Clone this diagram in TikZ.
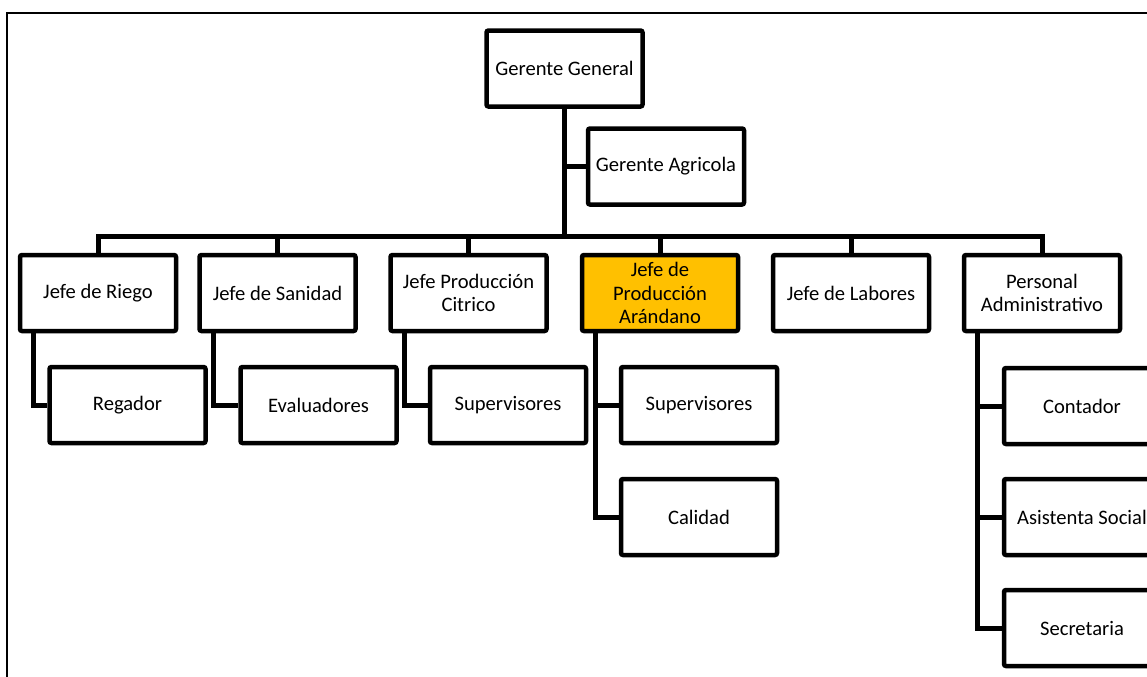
\documentclass[tikz,border=0pt]{standalone}
\usepackage{fontspec}
\setmainfont{Carlito}
\usetikzlibrary{positioning}

\definecolor{Highlight}{HTML}{FFC000}
\tikzstyle{Block}=[rectangle,draw=black,rounded corners=1pt,line width=2.25pt,
  align=center,minimum height=38pt,minimum width=78pt,inner sep=1pt,
  font=\fontsize{10.3pt}{11.7pt}\selectfont]
\tikzstyle{LinkLine}=[black,line width=2.5pt]

\begin{document}
\begin{tikzpicture}[x=0.5pt, y=-0.5pt]
		\useasboundingbox (0,0) rectangle (1147,676);
		\clip (0,0) rectangle (1147,676);
		
		% Frame
		\draw[line width=1pt] (7,700) -- (7,13) -- (1170,13);
		
		% Top management
		\draw(564.5,68.5) node[Block] (GerGeneral) {Gerente General};
		\draw(666,166.5) node[Block] (GerAgricola) {Gerente Agricola};
		\coordinate (Bus) at (564.5,236);
		
		% Heads
		\draw(98,293) node[Block] (JefRiego) {Jefe de Riego};
		\draw(277.5,293) node[Block] (JefSanidad) {Jefe de Sanidad};
		\draw(468.5,293) node[Block] (JefCitrico) {Jefe Producción\\Citrico};
		\draw(660,293) node[Block,fill=Highlight] (JefArandano) {Jefe de\\Producción\\Arándano};
		\draw(851,293) node[Block] (JefLabores) {Jefe de Labores};
		\draw(1042,293) node[Block] (PerAdmin) {Personal\\Administrativo};
		
		% Staff
		\draw(127.5,405) node[Block] (Regador) {Regador};
		\draw(318.5,405) node[Block] (Evaluadores) {Evaluadores};
		\draw(508,405) node[Block] (SupCitrico) {Supervisores};
		\draw(699,405) node[Block] (SupArandano) {Supervisores};
		\draw(699,517) node[Block] (Calidad) {Calidad};
		\draw(1082,406) node[Block] (Contador) {Contador};
		\draw(1082,517) node[Block] (Asistenta) {Asistenta Social};
		\draw(1082,628) node[Block] (Secretaria) {Secretaria};
		
		% Top management lines
		\draw[LinkLine] (GerGeneral.south) -- (Bus);
		\draw[LinkLine] (GerAgricola.west) -- (GerAgricola.west -| GerGeneral.south);
		\draw[LinkLine] (JefRiego.north) |- (Bus) -| (PerAdmin.north);
		\foreach \n in {JefSanidad,JefCitrico,JefArandano,JefLabores}
		  \draw[LinkLine] (\n.north) -- (\n.north |- Bus);
		
		% Staff lines
		\draw[LinkLine] ([xshift=8pt]JefRiego.south west) |- (Regador.west);
		\draw[LinkLine] ([xshift=8pt]JefSanidad.south west) |- (Evaluadores.west);
		\draw[LinkLine] ([xshift=8pt]JefCitrico.south west) |- (SupCitrico.west);
		\draw[LinkLine] ([xshift=8pt]JefArandano.south west) |- (Calidad.west);
		\draw[LinkLine] (SupArandano.west) -- (SupArandano.west -| Calidad.west) -- +(-11pt,0);
		\draw[LinkLine] ([xshift=8pt]PerAdmin.south west) |- (Secretaria.west);
		\draw[LinkLine] (Contador.west) -- +(-12pt,0);
		\draw[LinkLine] (Asistenta.west) -- +(-12pt,0);
		
	\end{tikzpicture}
\end{document}
